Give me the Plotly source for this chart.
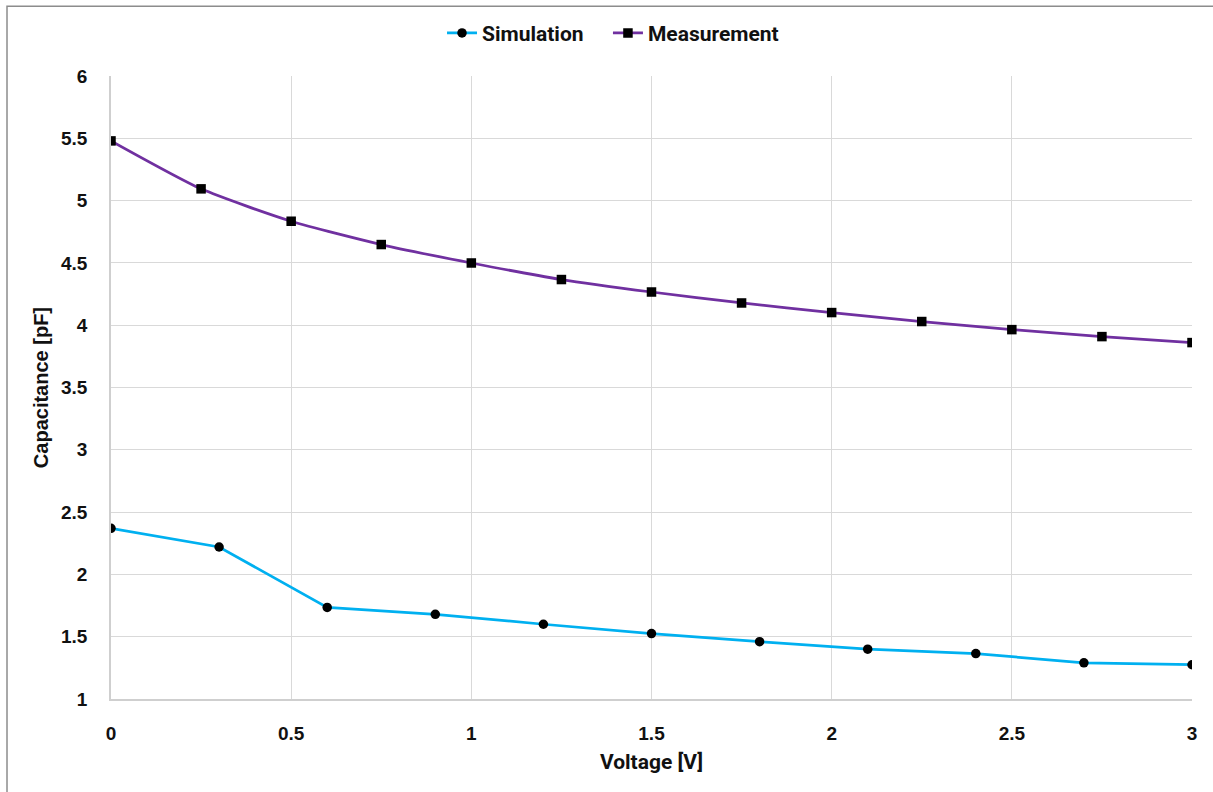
import plotly.graph_objects as go

sim_x = [0, 0.3, 0.6, 0.9, 1.2, 1.5, 1.8, 2.1, 2.4, 2.7, 3.0]
sim_y = [2.37, 2.22, 1.735, 1.68, 1.60, 1.525, 1.46, 1.40, 1.365, 1.29, 1.275]
meas_x = [0, 0.25, 0.5, 0.75, 1.0, 1.25, 1.5, 1.75, 2.0, 2.25, 2.5, 2.75, 3.0]
meas_y = [5.48, 5.095, 4.835, 4.648, 4.50, 4.367, 4.267, 4.179, 4.102, 4.03, 3.965, 3.909, 3.861]
x_ticks = [0, 0.5, 1, 1.5, 2, 2.5, 3]
y_ticks = [1, 1.5, 2, 2.5, 3, 3.5, 4, 4.5, 5, 5.5, 6]

tick_font = dict(family="Liberation Sans, Arial, sans-serif", size=19, color="#111111", weight="bold")
ytitle_font = dict(family="Liberation Sans, Arial, sans-serif", size=20, color="#111111", weight="bold")
legend_font = dict(family="Roboto, sans-serif", size=21, color="#111111", weight="bold")

fig = go.Figure()
fig.add_trace(go.Scatter(
    x=sim_x, y=sim_y, name="Simulation", mode="lines+markers",
    line=dict(color="#00B0F0", width=2.75),
    marker=dict(symbol="circle", size=9.5, color="#000000"),
    legend="legend",
))
fig.add_trace(go.Scatter(
    x=meas_x, y=meas_y, name="Measurement", mode="lines+markers",
    line=dict(color="#7030A0", width=2.75, shape="spline", smoothing=0.6),
    marker=dict(symbol="square", size=9.5, color="#000000"),
    legend="legend2",
))

leg_common = dict(orientation="h", xref="container", yref="container",
                  xanchor="left", y=0.958, yanchor="middle",
                  font=legend_font, itemwidth=30, bgcolor="rgba(0,0,0,0)")

fig.update_layout(
    width=1213, height=792,
    margin=dict(l=111, r=21, t=75, b=93),
    paper_bgcolor="white", plot_bgcolor="white",
    legend=dict(x=0.3644, **leg_common),
    legend2=dict(x=0.5012, **leg_common),
    showlegend=True,
)
fig.update_xaxes(
    range=[0, 3], tickvals=x_ticks, ticktext=[str(v) for v in x_ticks],
    showgrid=True, gridcolor="#D9D9D9", gridwidth=1,
    showline=True, linecolor="#CFCFCF", linewidth=1.5, mirror=False,
    zeroline=False, tickfont=tick_font, ticks="outside", ticklen=16,
    tickcolor="rgba(0,0,0,0)",
    title=dict(text="Voltage [V]", font=legend_font, standoff=12),
)
fig.update_yaxes(
    range=[1, 6], tickvals=y_ticks, ticktext=[str(v) for v in y_ticks],
    showgrid=True, gridcolor="#D9D9D9", gridwidth=1,
    showline=True, linecolor="#CFCFCF", linewidth=1.5,
    zeroline=False, tickfont=tick_font, ticks="outside", ticklen=18,
    tickcolor="rgba(0,0,0,0)",
    title=dict(text="Capacitance [pF]", font=ytitle_font, standoff=7),
)
# outer chart border
fig.add_shape(type="rect", xref="paper", yref="paper",
              x0=-0.0962, x1=1.03, y0=-0.16, y1=1.1122,
              line=dict(color="#8C8C8C", width=1.5), layer="below")

fig.write_html("out.html", config={"displayModeBar": False},
               post_script="document.body.style.margin='0';")
